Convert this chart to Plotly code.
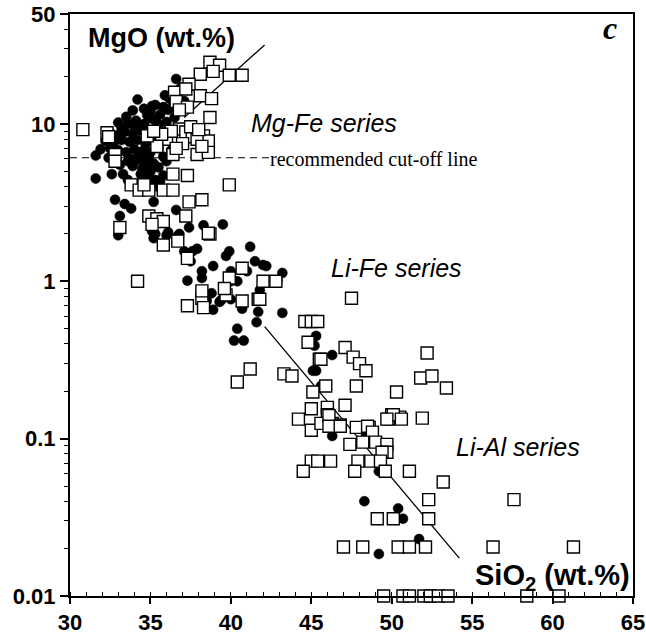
import plotly.graph_objects as go

# ---- data (SiO2 wt.%, MgO wt.%) ----
dot_sio2 = [36.6,36.6,35.9,34.2,35.3,35.1,33.9,34.8,33.5,36.2,35.8,36.4,36.1,35.6,35.1,34.1,33.6,33.0,34.6,35.5,36.0,36.5,
            32.5,33.0,33.4,33.9,34.4,34.9,35.4,32.2,32.7,33.2,33.7,34.2,34.7,35.2,31.9,32.5,33.0,33.5,34.0,34.5,35.0,35.5,
            31.6,32.4,33.8,34.2,34.7,35.2,34.5,35.0,35.5,34.8,35.3,35.8,33.9,35.0,35.6,34.4,36.0,36.3,31.6,32.6,33.3,
            33.2,34.0,34.6,35.0,35.4,34.3,33.6,33.1,34.9,35.8,36.0,34.8,35.6,33.6,34.1,36.9,37.1,
            32.8,33.4,33.8,33.1,33.0,35.2,35.1,36.0,36.8,36.6,37.4,38.3,39.5,35.2,35.3,36.1,36.7,37.1,37.6,37.9,37.5,
            39.7,39.9,41.2,41.5,42.0,42.2,43.2,42.9,38.9,38.2,38.2,37.3,40.0,40.0,40.4,39.6,38.8,38.2,38.5,39.4,40.0,
            41.0,41.8,38.9,39.3,40.7,41.7,41.6,43.2,40.4,40.2,40.8,
            45.3,45.2,46.3,45.1,45.3,45.6,46.3,48.4,49.2,48.3,50.4,50.7,51.7,49.2]
dot_mgo = [19.3,15.9,15.2,14.3,13.2,13.0,12.2,11.4,11.1,14.5,12.8,13.5,12.3,11.5,10.8,10.5,10.0,10.2,10.0,9.8,10.3,11.0,
           8.8,8.5,8.9,8.7,9.1,8.8,8.6,7.8,7.6,7.9,7.7,7.9,7.5,7.8,6.9,7.0,6.8,6.6,6.9,6.7,6.6,7.0,
           6.3,6.1,6.0,5.9,5.8,5.6,5.2,5.0,5.3,4.6,4.4,4.7,5.4,4.0,3.9,4.8,5.8,6.8,4.5,4.8,4.8,
           9.5,9.8,12.5,12.0,10.2,6.3,5.8,5.5,6.2,6.2,9.0,5.4,4.3,4.4,4.2,17.0,14.0,
           3.3,3.1,2.9,2.6,1.96,3.2,2.08,1.96,2.0,2.84,2.2,2.27,2.3,1.88,2.0,2.05,1.94,1.55,1.55,1.61,1.34,
           1.45,1.55,1.66,1.34,1.27,1.25,1.13,1.01,1.25,1.16,1.05,1.01,1.16,1.00,1.00,0.90,0.84,0.76,0.75,0.76,0.77,
           1.16,0.88,0.66,0.74,0.67,0.64,0.55,0.63,0.50,0.42,0.42,
           0.45,0.39,0.34,0.27,0.27,0.216,0.104,0.104,0.062,0.040,0.036,0.031,0.023,0.0185]

sq_sio2 = [30.8,32.3,32.4,38.7,39.3,38.1,38.9,39.9,40.7,37.4,36.5,37.2,38.1,38.8,36.6,37.3,38.7,36.8,
           38.3,38.6,37.9,38.6,36.8,37.2,37.6,36.4,36.0,35.4,34.8,32.8,32.8,37.9,38.2,37.0,36.3,35.7,37.5,38.0,35.2,36.6,
           37.3,36.4,33.8,34.3,34.9,35.8,36.4,34.6,39.9,37.4,38.2,37.2,34.9,35.4,35.8,35.1,33.1,38.7,36.7,35.8,34.2,
           37.3,38.2,38.3,39.7,40.7,41.7,42.0,42.8,40.7,39.9,38.6,37.3,38.2,39.6,41.8,
           41.2,40.4,43.3,43.8,44.6,45.0,45.4,44.8,45.5,45.1,45.0,44.2,45.0,45.0,44.5,47.5,47.1,47.6,48.0,48.4,45.6,
           45.9,47.8,50.3,46.0,46.0,47.1,45.6,46.3,46.8,47.8,48.6,50.0,50.5,49.8,52.2,51.8,52.5,53.4,50.1,49.7,50.6,51.9,
           48.5,48.8,47.4,48.2,49.0,49.7,49.7,49.4,47.9,48.7,49.3,46.2,45.4,47.7,49.6,51.1,46.1,46.1,46.8,
           53.2,52.3,52.3,57.6,49.1,50.1,47.0,48.2,50.4,51.1,52.1,56.3,61.3,
           49.5,50.7,51.1,52.0,52.4,52.9,53.5,58.4,60.4]
sq_mgo = [9.2,8.8,8.3,24.7,23.6,20.7,21.6,20.4,20.4,17.9,15.9,16.7,15.1,14.5,13.9,12.8,11.0,12.3,
          8.4,7.8,6.4,6.6,9.3,8.9,8.3,6.4,8.0,7.2,8.4,6.4,5.8,8.0,7.2,7.5,9.0,8.6,9.6,9.2,9.0,7.0,
          4.7,4.8,4.1,3.8,3.8,3.8,3.8,4.1,4.1,3.2,3.3,2.6,2.6,2.5,2.4,2.3,2.2,2.0,1.8,1.7,1.0,
          0.70,0.78,0.68,0.82,0.75,0.77,1.0,1.0,1.21,1.05,2.02,1.40,0.87,0.90,0.77,
          0.277,0.229,0.258,0.25,0.555,0.555,0.555,0.41,0.32,0.198,0.155,0.133,0.113,0.072,0.062,0.78,0.38,0.33,0.30,0.27,0.32,
          0.216,0.216,0.198,0.158,0.142,0.163,0.125,0.125,0.122,0.118,0.118,0.142,0.137,0.133,0.35,0.243,0.25,0.21,0.142,0.133,0.133,0.135,
          0.12,0.11,0.092,0.095,0.095,0.092,0.082,0.082,0.072,0.072,0.072,0.072,0.072,0.062,0.062,0.062,0.14,0.12,0.12,
          0.053,0.041,0.031,0.041,0.031,0.031,0.0205,0.0205,0.0205,0.0205,0.0205,0.0205,0.0205,
          0.01,0.01,0.01,0.01,0.01,0.01,0.01,0.01,0.01]

trend_upper_sio2 = [37.1, 42.1]
trend_upper_mgo = [11.0, 31.8]
trend_lower_sio2 = [42.1, 54.2]
trend_lower_mgo = [0.515, 0.0174]

cutoff_sio2 = [30, 42.6]
cutoff_mgo = [6.1, 6.1]

x_ticks = [30, 35, 40, 45, 50, 55, 60, 65]
y_ticks = [0.01, 0.1, 1, 10, 50]
y_tick_text = ["0.01", "0.1", "1", "10", "50"]

fig = go.Figure()
fig.add_trace(go.Scatter(x=trend_upper_sio2, y=trend_upper_mgo, mode="lines",
                         line=dict(color="black", width=1.3), hoverinfo="skip"))
fig.add_trace(go.Scatter(x=trend_lower_sio2, y=trend_lower_mgo, mode="lines",
                         line=dict(color="black", width=1.3), hoverinfo="skip"))
fig.add_trace(go.Scatter(x=cutoff_sio2, y=cutoff_mgo, mode="lines",
                         line=dict(color="black", width=1.2, dash="7px,5px"), hoverinfo="skip"))
fig.add_trace(go.Scatter(x=dot_sio2, y=dot_mgo, mode="markers", cliponaxis=False,
                         marker=dict(symbol="circle", size=10, color="black",
                                     line=dict(color="black", width=0.5))))
fig.add_trace(go.Scatter(x=sq_sio2, y=sq_mgo, mode="markers", cliponaxis=False,
                         marker=dict(symbol="square", size=12, color="white",
                                     line=dict(color="black", width=1.4))))

sans = "Arial, Liberation Sans, sans-serif"
serif = "Times New Roman, Liberation Serif, serif"

L, R, T, B = 70, 13, 14, 38
W, H = 646, 634

def px2paper(px, py):
    return (px - L) / float(W - L - R), (H - B - py) / float(H - T - B)

annots = [
    ("MgO (wt.%)", 86, 38, "left", dict(family=sans, size=27, weight="bold")),
    ("<i>c</i>", 610, 28, "center", dict(family=serif, size=32, weight="bold")),
    ("<i>Mg-Fe series</i>", 249, 123, "left", dict(family=sans, size=25)),
    ("recommended cut-off line", 268, 159, "left", dict(family=serif, size=20)),
    ("<i>Li-Fe series</i>", 329, 268, "left", dict(family=sans, size=25)),
    ("<i>Li-Al series</i>", 454, 447, "left", dict(family=sans, size=25)),
    ("SiO<sub>2</sub> (wt.%)", 632, 577, "right", dict(family=sans, size=29, weight="bold")),
]
for txt, px, py, xa, f in annots:
    ax, ay = px2paper(px, py)
    fig.add_annotation(text=txt, x=ax, y=ay, xref="paper", yref="paper",
                       xanchor=xa, yanchor="middle", showarrow=False,
                       font=dict(color="black", **f))

y_minor = [m * 10 ** e for e in range(-2, 2) for m in range(2, 10) if m * 10 ** e < 50]

fig.update_layout(
    width=W, height=H,
    margin=dict(l=L, r=R, t=T, b=B, autoexpand=False),
    paper_bgcolor="white", plot_bgcolor="white",
    showlegend=False,
    xaxis=dict(range=[30, 65], tickvals=x_ticks, showgrid=False, zeroline=False,
               automargin=False, ticklabeloverflow="allow",
               showline=True, mirror=True, linecolor="black", linewidth=2,
               ticks="outside", ticklen=6, tickwidth=1.5, tickcolor="black",
               tickfont=dict(family=sans, size=22, color="black", weight="bold"),
               minor=dict(dtick=1, ticks="inside", ticklen=4, tickwidth=1, tickcolor="black",
                          showgrid=False)),
    yaxis=dict(type="log", range=[-2, 1.69897], tickvals=y_ticks, ticktext=y_tick_text,
               showgrid=False, zeroline=False, automargin=False, ticklabeloverflow="allow",
               showline=True, mirror=True, linecolor="black", linewidth=2,
               ticks="outside", ticklen=8, tickwidth=1.5, tickcolor="black",
               tickfont=dict(family=sans, size=22, color="black", weight="bold"),
               minor=dict(tickvals=y_minor, ticks="outside", ticklen=4, tickwidth=1,
                          tickcolor="black", showgrid=False)),
)

fig.write_html("out.html")
